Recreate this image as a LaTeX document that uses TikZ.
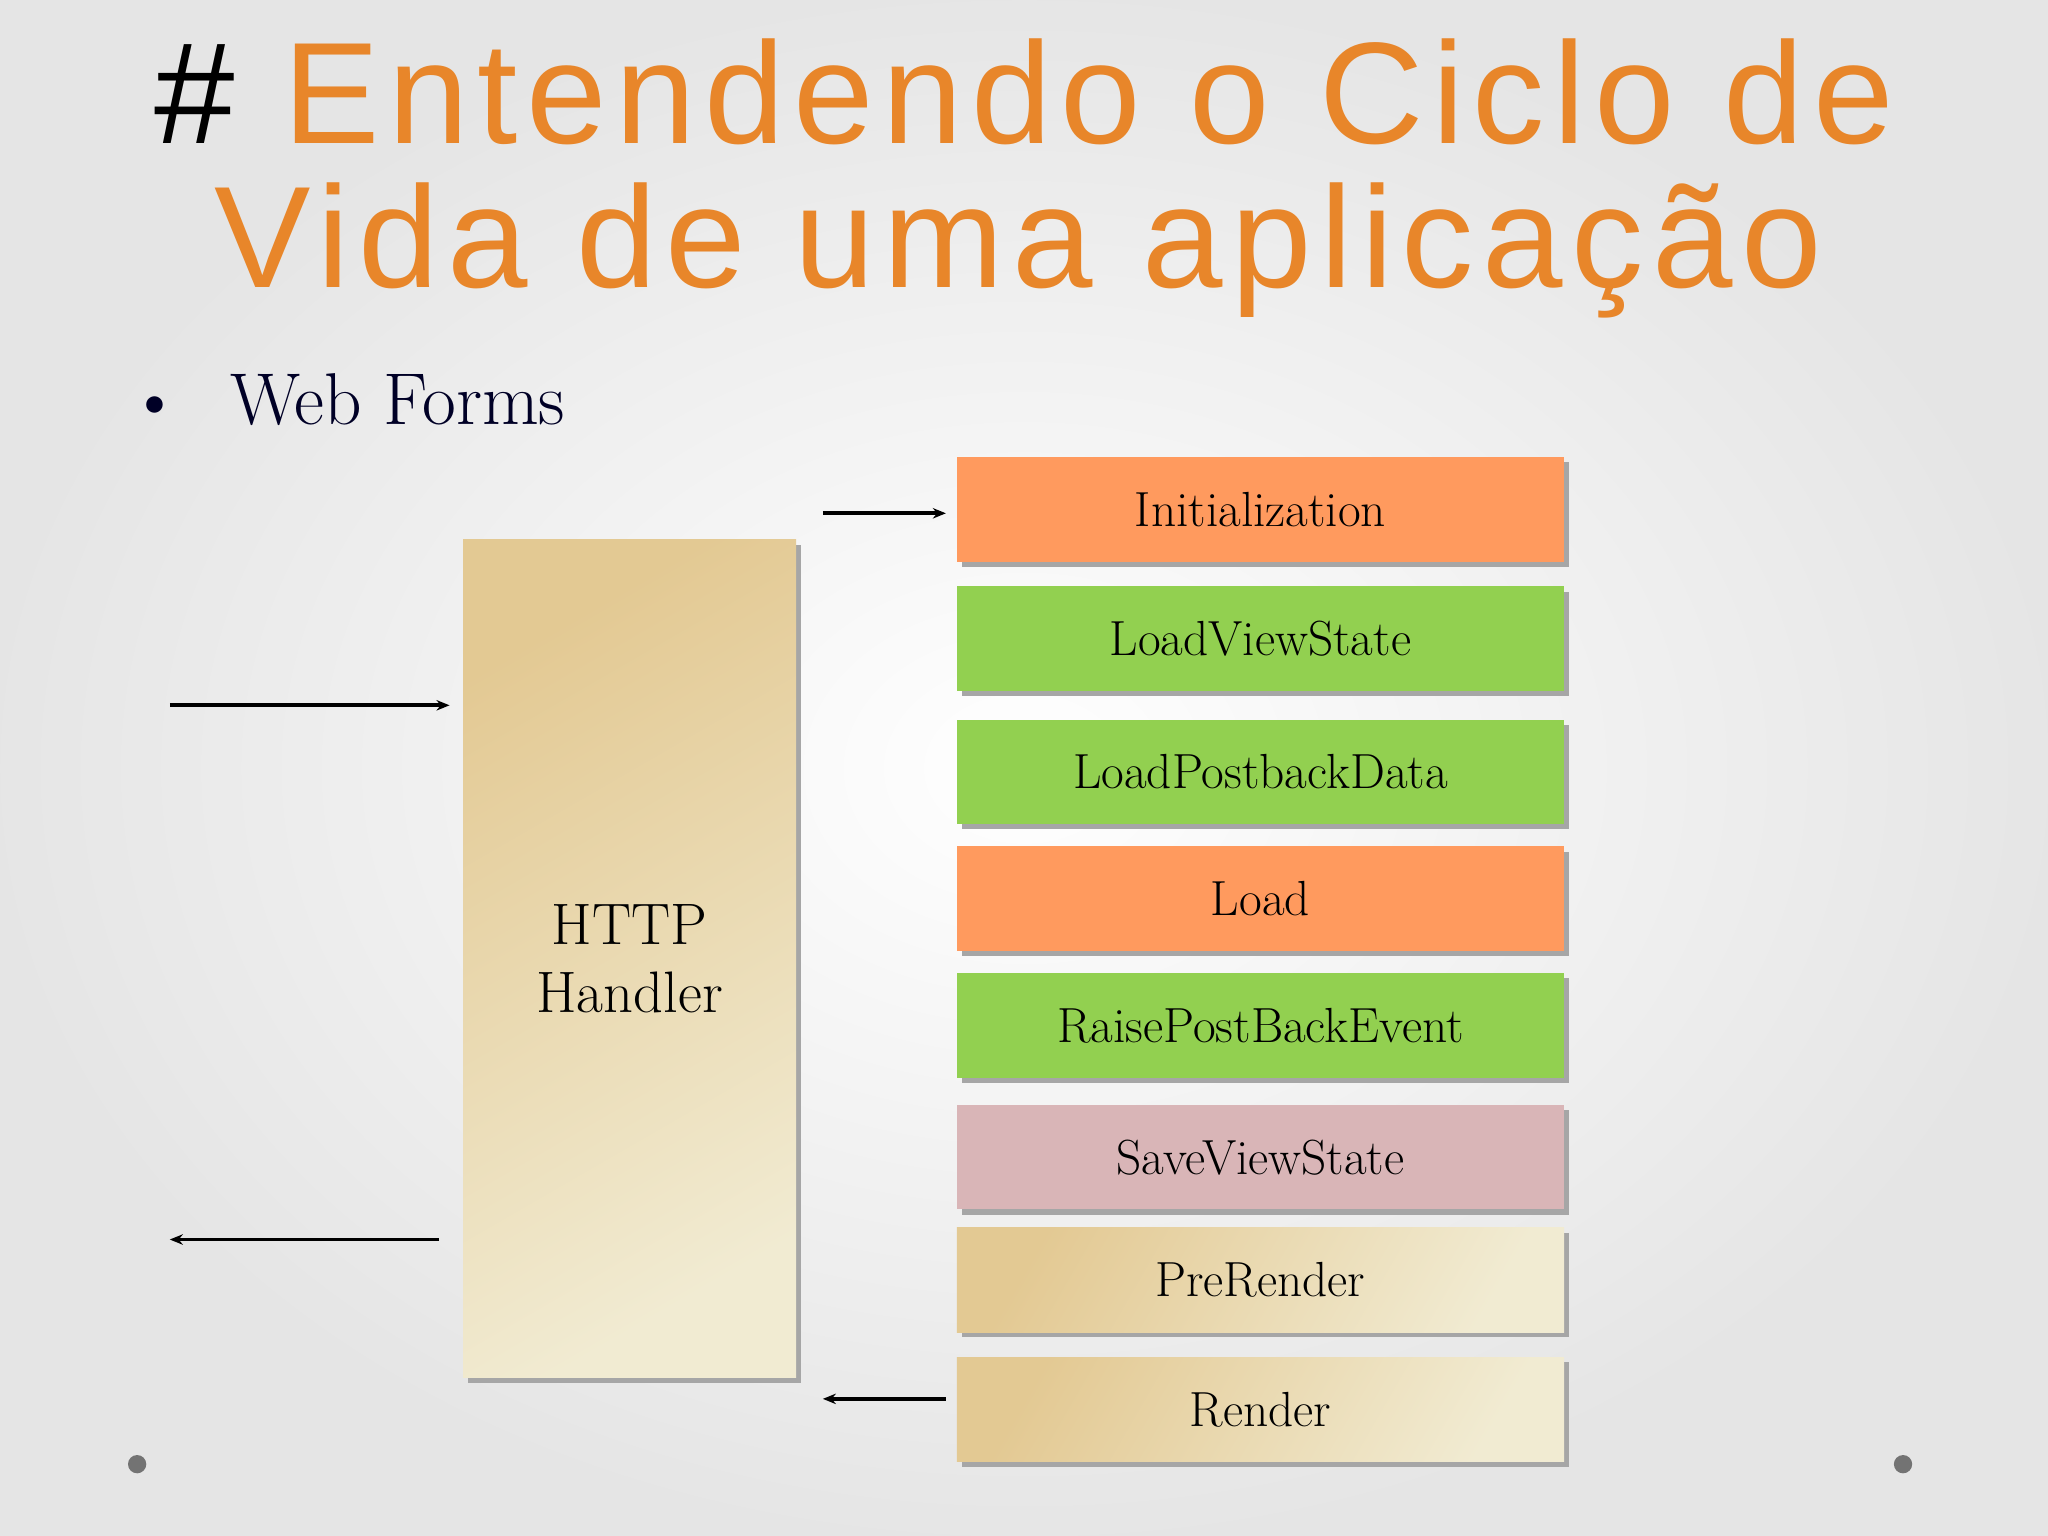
\documentclass[tikz,border=0pt]{standalone}
\usepackage{fontspec}
\newfontfamily\titlefont[LetterSpace=6]{Liberation Sans}
\usetikzlibrary{arrows.meta,shadows}
\definecolor{orng}{HTML}{FF9A5E}
\definecolor{grn}{HTML}{92D050}
\definecolor{pnk}{HTML}{D9B5B7}
\definecolor{tan1}{HTML}{E3C993}
\definecolor{tan2}{HTML}{F1EBD2}
\definecolor{ttl}{HTML}{E8862A}
\tikzset{
  stagebox/.style={minimum width=9.3cm, minimum height=1.6cm, inner sep=0pt,
    font=\fontsize{21.5}{26}\selectfont, drop shadow={shadow xshift=0.08cm, shadow yshift=-0.08cm, fill=black!35, opacity=1}},
  tanbox/.style={stagebox, left color=tan1, right color=tan2, shading angle=60},
  conn/.style={-{Stealth[length=0.2cm,width=0.16cm]}, line width=1.6pt, draw=black},
}
\begin{document}
\begin{tikzpicture}[x=0.02cm,y=-0.02cm]
\useasboundingbox (0,0) rectangle (1568,1176);
\shade[inner color=white, outer color=black!10] (0,0) rectangle (1568,1176);
\node[anchor=center] (title1) at (784,70) {\titlefont\fontsize{63}{66}\selectfont \color{black}\#\ \color{ttl}Entendendo o Ciclo de};
\node[anchor=center] (title2) at (780,192) {\titlefont\fontsize{63}{66}\selectfont \color{ttl}Vida de uma aplicação};
\node[anchor=west, font=\fontsize{32}{36}\selectfont, text=black!85!blue] (wf) at (92,306) {\textbullet\hspace{0.75cm}Web Forms};
\node[tanbox, minimum width=5.1cm, minimum height=12.84cm, shading angle=30,
  align=center, font=\fontsize{25.5}{30}\selectfont] (http) at (482,734) {HTTP\\Handler};
\node[stagebox, fill=orng] (s1) at (965,390) {Initialization};
\node[stagebox, fill=grn] (s2) at (965,489) {LoadViewState};
\node[stagebox, fill=grn] (s3) at (965,591) {LoadPostbackData};
\node[stagebox, fill=orng] (s4) at (965,688) {Load};
\node[stagebox, fill=grn] (s5) at (965,785) {RaisePostBackEvent};
\node[stagebox, fill=pnk] (s6) at (965,886) {SaveViewState};
\node[tanbox] (s7) at (965,980) {PreRender};
\node[tanbox] (s8) at (965,1079) {Render};
\coordinate (a1) at (630,393);
\coordinate (a2) at (130,540);
\coordinate (a3) at (130,949);
\coordinate (a4) at (630,1071);
\draw[conn] (a1) -- ([xshift=-0.16cm]s1.west|-a1);
\draw[conn] (a2) -- ([xshift=-0.2cm]http.west|-a2);
\draw[conn] ([xshift=-0.36cm]http.west|-a3) -- (a3);
\draw[conn] ([xshift=-0.16cm]s8.west|-a4) -- (a4);
\fill[black!55] (105,1121) circle (7) (1457,1121) circle (7);
\end{tikzpicture}
\end{document}
